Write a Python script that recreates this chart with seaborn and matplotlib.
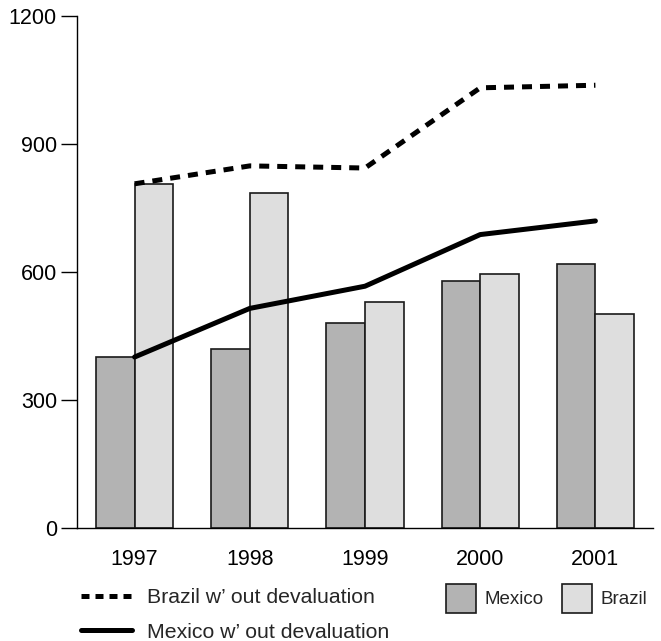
import numpy as np
import pandas as pd
import seaborn as sns
import matplotlib
matplotlib.use("Agg")
import matplotlib.pyplot as plt
from matplotlib.lines import Line2D
from matplotlib.patches import Patch

# values
years = ["1997", "1998", "1999", "2000", "2001"]
mexico = [400, 420, 480, 579, 618]
brazil = [806, 785, 528, 594, 502]
brazil_wo = [806, 848, 843, 1031, 1037]
mexico_wo = [400, 514, 566, 687, 719]
yticks = [0, 300, 600, 900, 1200]

dark = "#b3b3b3"
light = "#dedede"

bars = pd.DataFrame({
    "year": years * 2,
    "value": mexico + brazil,
    "country": ["Mexico"] * len(years) + ["Brazil"] * len(years),
})
lines = pd.DataFrame({"year": years, "brazil_wo": brazil_wo, "mexico_wo": mexico_wo})

sns.set_theme(style="white")
plt.rcParams["font.family"] = ["Liberation Sans", "DejaVu Sans"]

fig = plt.figure(figsize=(6.61, 6.41), dpi=100)
ax = fig.add_axes([77 / 661, 1 - 527.7 / 641, (653 - 77) / 661, (527.7 - 15.7) / 641])

sns.barplot(data=bars, x="year", y="value", hue="country", order=years,
            hue_order=["Mexico", "Brazil"], palette=[dark, light], width=0.67,
            edgecolor="#1a1a1a", linewidth=1.2, saturation=1, legend=False, ax=ax)

lw = 3.6
sns.pointplot(data=lines, x="year", y="brazil_wo", order=years, color="black",
              marker="", linestyle=(0, (2.0, 1.6)), linewidth=lw, errorbar=None, ax=ax)
sns.pointplot(data=lines, x="year", y="mexico_wo", order=years, color="black",
              marker="", linestyle="-", linewidth=lw, errorbar=None, ax=ax)

ax.set_xlim(-0.5, 4.5)
ax.set_ylim(0, 1200)
ax.set_yticks(yticks)
ax.set_xlabel("")
ax.set_ylabel("")
for s in ["top", "right"]:
    ax.spines[s].set_visible(False)
for s in ["left", "bottom"]:
    ax.spines[s].set_color("black")
    ax.spines[s].set_linewidth(1.0)
ax.tick_params(axis="y", length=11.5, width=1.0, color="black", pad=3,
               labelsize=15.5, labelcolor="black", left=True)
ax.tick_params(axis="x", length=0, pad=15, labelsize=15.5, labelcolor="black")

line_handles = [
    Line2D([], [], color="black", lw=lw, linestyle=(0, (1.6, 1.2))),
    Line2D([], [], color="black", lw=lw, linestyle="-"),
]
fig.legend(line_handles, ["Brazil w\u2019 out devaluation", "Mexico w\u2019 out devaluation"],
           loc="upper left", bbox_to_anchor=(81 / 661, 1 - 588 / 641),
           frameon=False, fontsize=15.3, handlelength=2.4, handletextpad=0.7,
           labelspacing=0.74, borderpad=0, borderaxespad=0)
patch_handles = [
    Patch(facecolor=dark, edgecolor="#1a1a1a", linewidth=1.2),
    Patch(facecolor=light, edgecolor="#1a1a1a", linewidth=1.2),
]
fig.legend(patch_handles, ["Mexico", "Brazil"], loc="upper left",
           bbox_to_anchor=(446 / 661, 1 - 584 / 641), ncol=2, frameon=False,
           fontsize=13.5, handlelength=1.6, handleheight=1.98, handletextpad=0.46,
           columnspacing=0.95, borderpad=0, borderaxespad=0)

fig.savefig("out.png", dpi=100)
